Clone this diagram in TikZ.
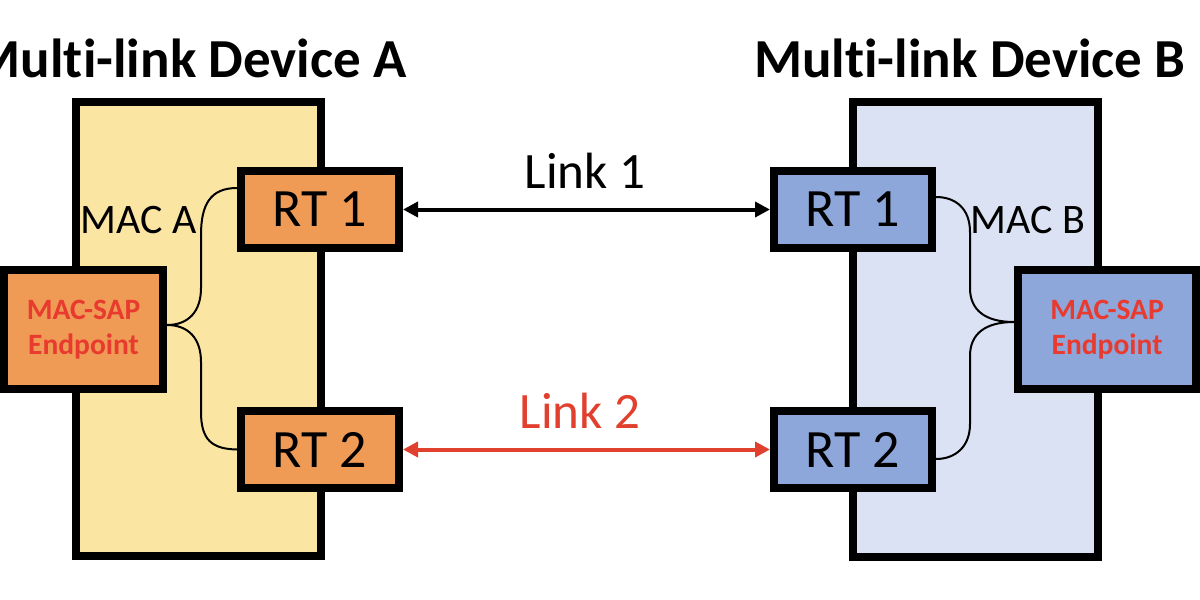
\documentclass[tikz,border=0pt]{standalone}
\usepackage{fontspec}
\setmainfont{Carlito}[Ligatures={NoCommon}]
\usetikzlibrary{arrows.meta,calc}
\definecolor{ylw}{HTML}{FBE5A3}
\definecolor{lblue}{HTML}{DAE2F3}
\definecolor{orng}{HTML}{EF9A55}
\definecolor{mblue}{HTML}{8EA7DA}
\definecolor{redtxt}{HTML}{E83A2E}
\definecolor{redln}{HTML}{E2402F}
\tikzset{
  devbox/.style={draw=black, line width=8pt, inner sep=0pt, minimum width=245pt},
  rtbox/.style={draw=black, line width=8pt, inner sep=0pt, minimum width=158pt, minimum height=77pt,
    font=\fontsize{54}{60}\selectfont},
  sapbox/.style={draw=black, line width=8pt, inner sep=0pt, minimum height=119pt, align=center,
    font=\fontsize{29.5}{35}\selectfont\bfseries, text=redtxt},
  title/.style={font=\fontsize{55}{62}\selectfont\bfseries, inner sep=0pt},
  maclbl/.style={font=\fontsize{42}{48}\selectfont, inner sep=0pt},
  linklbl/.style={font=\fontsize{51}{58}\selectfont, inner sep=0pt},
  brace/.style={line width=2pt, black},
  link/.style={line width=4pt, {Triangle[length=15pt,width=15pt]}-{Triangle[length=15pt,width=15pt]}}
}
\begin{document}
\begin{tikzpicture}[x=1pt,y=-1pt]
\useasboundingbox (0,0) rectangle (1200,600);
\fill[white] (0,0) rectangle (1200,600);
% devices
\node[devbox, fill=ylw, minimum height=454pt] (devA) at (198.5,329) {};
\node[devbox, fill=lblue, minimum height=455pt] (devB) at (975.5,329.5) {};
% titles
\node[title, anchor=base east] (tA) at (407,77) {Multi-link Device A};
\node[title, anchor=base west] (tB) at (754,77) {Multi-link Device B};
% RT boxes
\node[rtbox, fill=orng] (rt1a) at (320,209.5) {RT 1};
\node[rtbox, fill=orng] (rt2a) at (320,449.5) {RT 2};
\node[rtbox, fill=mblue] (rt1b) at (853,209.5) {RT 1};
\node[rtbox, fill=mblue] (rt2b) at (853,449.5) {RT 2};
% MAC-SAP endpoints
\node[sapbox, fill=orng, minimum width=159pt] (sapA) at (83.5,329.5) {MAC-SAP\\Endpoint};
\node[sapbox, fill=mblue, minimum width=178pt] (sapB) at (1107,329.5) {MAC-SAP\\Endpoint};
% MAC labels
\node[maclbl, anchor=base] (macA) at (138.5,233) {MAC A};
\node[maclbl, anchor=base] (macB) at (1028,233) {MAC B};
% brace anchor points
\coordinate (ba1) at ($(rt1a.west)+(0,-21.5)$);
\coordinate (ba2) at (rt2a.west);
\coordinate (bb1) at ($(rt1b.east)+(0,-12.5)$);
\coordinate (bb2) at ($(rt2b.east)+(0,9.5)$);
\coordinate (tipA) at ($(sapA.east)+(0,-4.5)$);
\coordinate (tipB) at ($(sapB.west)+(0,-7.5)$);
% braces
\draw[brace] (ba1) .. controls (210,188) and (201,205) .. (201,235)
  -- (201,288) .. controls (201,312) and (188,325) .. (tipA)
  .. controls (188,325) and (201,338) .. (201,362)
  -- (201,412) .. controls (201,440) and (212,449) .. (ba2);
\draw[brace] (bb1) .. controls (955,197) and (970,208) .. (970,232)
  -- (970,288) .. controls (970,310) and (985,322) .. (tipB)
  .. controls (985,322) and (970,334) .. (970,356)
  -- (970,424) .. controls (970,447) and (955,459) .. (bb2);
% links
\draw[link, black] (rt1a.east) -- (rt1b.west);
\draw[link, redln] (rt2a.east) -- (rt2b.west);
\node[linklbl, anchor=base] (l1) at (585,188) {Link 1};
\node[linklbl, anchor=base, text=redln] (l2) at (580,428) {Link 2};
\end{tikzpicture}
\end{document}
